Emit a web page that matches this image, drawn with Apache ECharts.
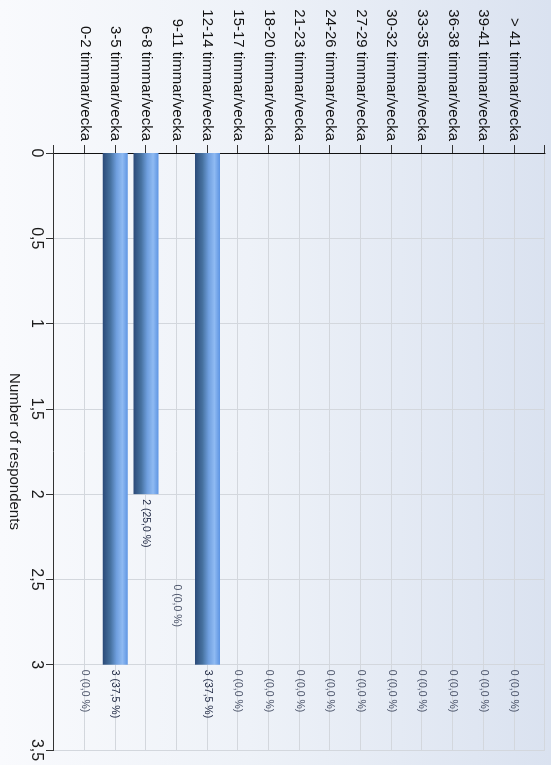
<!DOCTYPE html>
<html>
<head>
<meta charset="utf-8">
<script src="https://cdn.jsdelivr.net/npm/echarts@6/dist/echarts.min.js"></script>
<style>
  html, body { margin: 0; padding: 0; width: 551px; height: 765px; overflow: hidden; background: #f9fafd; }
  /* The chart is laid out as a horizontal bar chart and turned a quarter turn clockwise */
  #chart {
    position: absolute; left: 0; top: 0;
    width: 765px; height: 551px;
    transform-origin: 0 0;
    transform: translate(551px, 0) rotate(90deg);
    background: linear-gradient(to bottom, #dae2f0 0%, #eef2f8 55%, #f9fafd 100%);
  }
</style>
</head>
<body>
<div id="chart"></div>
<script>
// Hours per week, answers per band
const categories = [
  '0-2 timmar/vecka', '3-5 timmar/vecka', '6-8 timmar/vecka', '9-11 timmar/vecka',
  '12-14 timmar/vecka', '15-17 timmar/vecka', '18-20 timmar/vecka', '21-23 timmar/vecka',
  '24-26 timmar/vecka', '27-29 timmar/vecka', '30-32 timmar/vecka', '33-35 timmar/vecka',
  '36-38 timmar/vecka', '39-41 timmar/vecka', '> 41 timmar/vecka'
];
const respondents = [0, 3, 2, 0, 3, 0, 0, 0, 0, 0, 0, 0, 0, 0, 0];
const valueTicks = [0, 0.5, 1, 1.5, 2, 2.5, 3, 3.5];
// where the "0 (0,0 %)" captions of empty bands sit along the value axis
const emptyCaptionAt = [3, null, null, 2.5, 3, 3, 3, 3, 3, 3, 3, 3, 3, 3, 3];

const total = respondents.reduce((a, b) => a + b, 0);
const fmtNum = v => String(v).replace('.', ',');
const caption = v => v + ' (' + (total ? (v / total * 100) : 0).toFixed(1).replace('.', ',') + ' %)';

// one empty slot at each end keeps the bands off the axis corners
const axisCats = [''].concat(categories, ['']);
const barData = ['-'].concat(respondents.map(v => v > 0 ? v : '-'), ['-']);
const emptyCaptions = [];
respondents.forEach((v, i) => {
  if (v === 0 && emptyCaptionAt[i] != null) emptyCaptions.push({ value: [emptyCaptionAt[i], i + 1], raw: v });
});

const font = '"Liberation Sans", Arial, sans-serif';
const chart = echarts.init(document.getElementById('chart'), null, { renderer: 'canvas', width: 765, height: 551 });
chart.setOption({
  animation: false,
  backgroundColor: 'transparent',
  textStyle: { fontFamily: font },
  grid: { left: 153, right: 15, top: 6, bottom: 54, containLabel: false },
  xAxis: {
    type: 'value',
    min: valueTicks[0],
    max: valueTicks[valueTicks.length - 1],
    interval: valueTicks[1] - valueTicks[0],
    name: 'Number of respondents',
    nameLocation: 'middle',
    nameGap: 32,
    nameTextStyle: { fontSize: 15, color: '#1a1a1a', fontFamily: font },
    axisLine: { show: true, lineStyle: { color: '#333', width: 1 } },
    axisTick: { show: true, length: 8, lineStyle: { color: '#333' } },
    axisLabel: { fontSize: 16, color: '#1a1a1a', margin: 10, formatter: v => fmtNum(v), fontFamily: font },
    splitLine: { show: true, lineStyle: { color: '#d3d7dd', width: 1 } }
  },
  yAxis: {
    type: 'category',
    data: axisCats,
    boundaryGap: false,
    axisLine: { show: true, lineStyle: { color: '#111', width: 1 } },
    axisTick: { show: true, length: 8, interval: 0, lineStyle: { color: '#333' } },
    axisLabel: { fontSize: 15, color: '#111', margin: 12, interval: 0, fontFamily: font },
    splitLine: { show: true, interval: 0, lineStyle: { color: '#d3d7dd', width: 1 } }
  },
  series: [
    {
      type: 'bar',
      data: barData,
      barWidth: 25,
      itemStyle: {
        color: new echarts.graphic.LinearGradient(0, 0, 0, 1, [
          { offset: 0, color: '#5d94e2' },
          { offset: 0.22, color: '#8fbaf2' },
          { offset: 0.45, color: '#6f9fdf' },
          { offset: 0.7, color: '#46719f' },
          { offset: 1, color: '#2b4a78' }
        ])
      },
      label: {
        show: true,
        position: 'right',
        distance: 5,
        fontSize: 10.5,
        color: '#1c2540',
        fontFamily: font,
        formatter: p => caption(p.value)
      }
    },
    {
      type: 'scatter',
      data: emptyCaptions,
      symbolSize: 0,
      silent: true,
      label: {
        show: true,
        position: 'right',
        distance: 5,
        fontSize: 10.5,
        color: '#1c2540',
        fontFamily: font,
        formatter: p => caption(p.data.raw)
      }
    }
  ]
});
</script>
</body>
</html>
